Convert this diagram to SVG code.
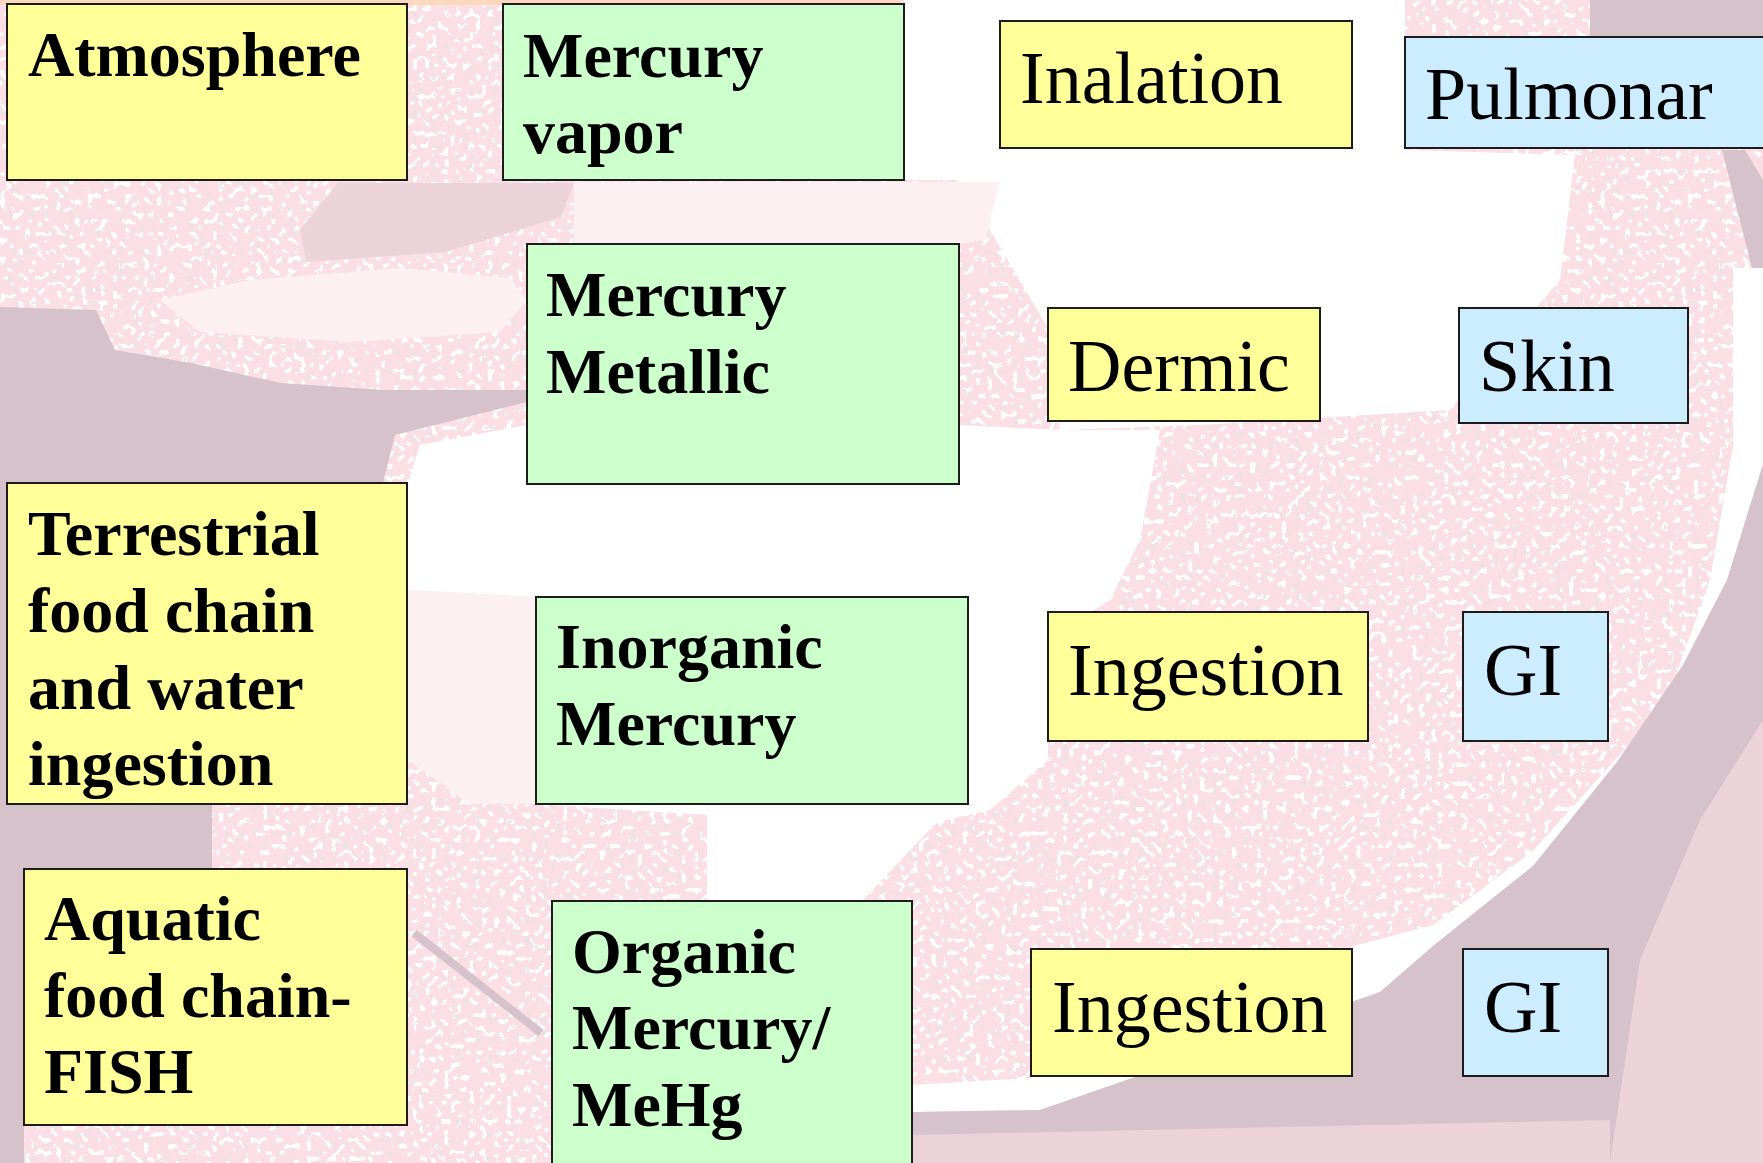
<svg xmlns="http://www.w3.org/2000/svg" width="1763" height="1163" viewBox="0 0 1763 1163">
<style>
.box{stroke:#1c1c1c;stroke-width:2}
.y{fill:#FFFF99}.g{fill:#CCFFCC}.b{fill:#CCECFF}
.tb{font-family:"Liberation Serif","Times New Roman",serif;font-weight:700;font-size:64px;fill:#000}
.tr{font-family:"Liberation Serif","Times New Roman",serif;font-weight:400;font-size:74px;fill:#000}
.pk{fill:#FCDFE5}.mv{fill:#D6C2CA}.wh{fill:#FFFFFF}.pl{fill:#FDF0F3}.mx{fill:#ECD3D9}
</style>
<defs>
<filter id="grain" x="0" y="0" width="1763" height="1163" filterUnits="userSpaceOnUse" primitiveUnits="userSpaceOnUse">
<feTurbulence type="fractalNoise" baseFrequency="0.16" numOctaves="1" seed="5" result="t1"/>
<feColorMatrix in="t1" type="matrix" values="0 0 0 0 1  0 0 0 0 1  0 0 0 0 1  1 0 0 0 0" result="w0"/>
<feComponentTransfer in="w0" result="w"><feFuncA type="discrete" tableValues="0 0 0 0.95 0.95"/></feComponentTransfer>
<feTurbulence type="fractalNoise" baseFrequency="0.16" numOctaves="1" seed="17" result="t2"/>
<feColorMatrix in="t2" type="matrix" values="0 0 0 0 0.84  0 0 0 0 0.76  0 0 0 0 0.79  1 0 0 0 0" result="m0"/>
<feComponentTransfer in="m0" result="m"><feFuncA type="discrete" tableValues="0 0 0 0 0 0 0 0 0 0 0 0 0 0.85 0.85 0.85 0.85 0.85 0.85 0.85"/></feComponentTransfer>
<feMerge><feMergeNode in="SourceGraphic"/><feMergeNode in="w"/><feMergeNode in="m"/></feMerge>
</filter>
</defs>
<g id="background">
<rect x="0" y="0" width="1763" height="1163" class="pk" filter="url(#grain)"/>
<rect x="0" y="0" width="900" height="5" fill="#FCD9BE"/>
<!-- top-center white -->
<path class="wh" d="M904,0 L1405,0 L1405,150 L1575,155 L1560,280 L1450,410 L1200,425 L1060,430 L1049,330 L990,230 L960,180 L904,180 Z"/>
<path class="pl" d="M574,182 L1000,182 L985,240 L959,244 L574,244 Z"/>
<!-- middle white ring -->
<path class="wh" d="M420,445 L527,425 L527,484 L959,484 L959,425 L1060,430 L1160,430 L1140,540 L1110,600 L1048,640 L1048,760 L990,810 L937,822 L860,903 L707,903 L707,815 L536,804 L536,597 L408,590 L408,483 Z"/>
<path class="pl" d="M408,590 L536,597 L536,804 L470,804 L408,760 Z"/>
<!-- right white band -->
<path class="wh" d="M1763,268 L1763,464 L1727,580 L1683,665 L1617,762 L1533,866 L1433,946 L1380,992 L1040,1110 L912,1112 L912,1085 L1031,1078 L1354,946 L1433,925 L1533,851 L1633,740 L1667,700 L1710,580 L1733,446 L1733,268 Z"/>
<!-- lower right mauve -->
<path class="mv" d="M1763,464 L1727,580 L1683,665 L1617,762 L1533,866 L1433,946 L1380,992 L1040,1110 L912,1112 L912,1163 L1763,1163 Z"/>
<path class="mx" d="M1763,720 L1700,820 L1640,960 L1610,1163 L1763,1163 Z"/>
<path class="mx" d="M912,1135 L1610,1120 L1610,1163 L912,1163 Z"/>
<!-- upper right -->
<rect x="1590" y="0" width="173" height="36" class="mv"/>
<path class="mv" d="M1722,150 L1745,150 L1763,180 L1763,268 L1752,268 Z"/>
<!-- top-left mauve/white -->
<path class="mv" d="M0,307 L96,310 L115,350 L191,363 L281,383 L383,390 L527,390 L527,402 L395,435 L383,483 L0,483 Z"/>
<path class="mx" d="M300,230 L338,183 L574,183 L561,217 L446,252 L306,262 Z"/>
<path class="pl" d="M160,300 L250,280 L400,268 L510,278 L527,300 L500,332 L350,342 L200,332 Z"/>
<!-- lower left -->
<rect x="0" y="804" width="212" height="65" class="mv"/>
<rect x="0" y="804" width="24" height="359" class="mv"/>
<rect x="0" y="483" width="7" height="321" class="mv"/>
<path d="M414,933 L541,1033" stroke="#D6C2CA" stroke-width="8" fill="none"/>
</g>
<g id="connectors"></g>
<g id="n-atmosphere">
<rect class="box y" x="7" y="4" width="400" height="176"/>
<text class="tb" x="28" y="76">Atmosphere</text>
</g>
<g id="n-mercury-vapor">
<rect class="box g" x="503" y="4" width="401" height="176"/>
<text class="tb" x="523" y="77">Mercury</text>
<text class="tb" x="523" y="153">vapor</text>
</g>
<g id="n-inalation">
<rect class="box y" x="1000" y="21" width="352" height="127"/>
<text class="tr" x="1020" y="103">Inalation</text>
</g>
<g id="n-pulmonar">
<rect class="box b" x="1405" y="37" width="370" height="111"/>
<text class="tr" x="1425" y="119">Pulmonar</text>
</g>
<g id="n-mercury-metallic">
<rect class="box g" x="527" y="244" width="432" height="240"/>
<text class="tb" x="546" y="316">Mercury</text>
<text class="tb" x="546" y="393">Metallic</text>
</g>
<g id="n-dermic">
<rect class="box y" x="1048" y="308" width="272" height="113"/>
<text class="tr" x="1068" y="391">Dermic</text>
</g>
<g id="n-skin">
<rect class="box b" x="1459" y="308" width="229" height="115"/>
<text class="tr" x="1479" y="391">Skin</text>
</g>
<g id="n-terrestrial">
<rect class="box y" x="7" y="483" width="400" height="321"/>
<text class="tb" x="28" y="555">Terrestrial</text>
<text class="tb" x="28" y="632">food chain</text>
<text class="tb" x="28" y="709">and water</text>
<text class="tb" x="28" y="785">ingestion</text>
</g>
<g id="n-inorganic">
<rect class="box g" x="536" y="597" width="432" height="207"/>
<text class="tb" x="556" y="668">Inorganic</text>
<text class="tb" x="556" y="745">Mercury</text>
</g>
<g id="n-ingestion1">
<rect class="box y" x="1048" y="612" width="320" height="129"/>
<text class="tr" x="1068" y="695">Ingestion</text>
</g>
<g id="n-gi1">
<rect class="box b" x="1463" y="612" width="145" height="129"/>
<text class="tr" x="1484" y="695">GI</text>
</g>
<g id="n-aquatic">
<rect class="box y" x="24" y="869" width="383" height="256"/>
<text class="tb" x="44" y="940">Aquatic</text>
<text class="tb" x="44" y="1017">food chain-</text>
<text class="tb" x="44" y="1093">FISH</text>
</g>
<g id="n-organic">
<rect class="box g" x="552" y="901" width="360" height="270"/>
<text class="tb" x="572" y="973">Organic</text>
<text class="tb" x="572" y="1049">Mercury/</text>
<text class="tb" x="572" y="1126">MeHg</text>
</g>
<g id="n-ingestion2">
<rect class="box y" x="1031" y="949" width="321" height="127"/>
<text class="tr" x="1052" y="1032">Ingestion</text>
</g>
<g id="n-gi2">
<rect class="box b" x="1463" y="949" width="145" height="127"/>
<text class="tr" x="1484" y="1032">GI</text>
</g>
</svg>
